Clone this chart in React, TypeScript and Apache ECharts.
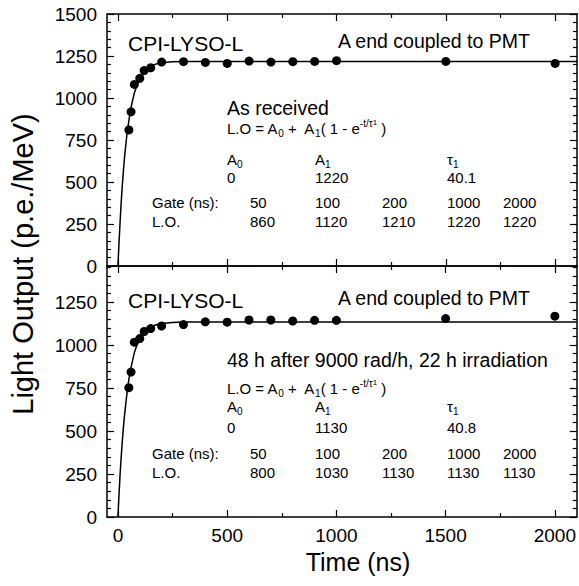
import React, { useEffect, useRef } from 'react';
import * as echarts from 'echarts';

// ---- data ----
const topPointT = [50, 60, 75, 100, 120, 150, 200, 300, 400, 500, 600, 700, 800, 900, 1000, 1500, 2000];
const topPointLO = [810, 918, 1081, 1117, 1163, 1180, 1214, 1216, 1212, 1206, 1220, 1214, 1216, 1218, 1222, 1218, 1206];
const bottomPointT = [50, 60, 75, 100, 120, 150, 200, 300, 400, 500, 600, 700, 800, 900, 1000, 1500, 2000];
const bottomPointLO = [752, 843, 1017, 1038, 1079, 1096, 1111, 1119, 1135, 1133, 1146, 1146, 1140, 1144, 1144, 1154, 1168];

const fitT = [0, 5, 10, 15, 20, 25, 30, 40, 50, 60, 75, 90, 100, 125, 150, 175, 200, 250, 300, 2100];
const topFitLO = [0, 140, 265, 380, 480, 565, 645, 770, 865, 945, 1030, 1085, 1110, 1160, 1188, 1203, 1210, 1216, 1218, 1218];
const bottomFitLO = [0, 130, 250, 350, 440, 520, 590, 705, 800, 870, 955, 1010, 1035, 1080, 1105, 1118, 1125, 1131, 1134, 1134];

const xMajorTicks = [0, 500, 1000, 1500, 2000];
const xMinorTicks = [250, 750, 1250, 1750];
const yTopMajorTicks = [0, 250, 500, 750, 1000, 1250, 1500];
const yBottomMajorTicks = [0, 250, 500, 750, 1000, 1250];

const gateNs = ['50', '100', '200', '1000', '2000'];
const topTableLO = ['860', '1120', '1210', '1220', '1220'];
const bottomTableLO = ['800', '1030', '1130', '1130', '1130'];
const topFitParams = ['0', '1220', '40.1'];
const bottomFitParams = ['0', '1130', '40.8'];

const panelLabel = 'CPI-LYSO-L';
const panelNote = 'A end coupled to PMT';
const topCondition = 'As received';
const bottomCondition = '48 h after 9000 rad/h, 22 h irradiation';
const yTitle = 'Light Output (p.e./MeV)';
const xTitle = 'Time (ns)';

// ---- layout ----
const FF = "'Liberation Sans', Arial, Helvetica, sans-serif";
const tableColX = [250, 315, 382, 447, 503];
const paramColX = [227, 315, 447];

const minorYTicks = (max: number, major: number[]) => {
  const out: number[] = [];
  for (let v = 50; v < max; v += 50) if (major.indexOf(v) < 0) out.push(v);
  return out;
};

const lineSt = { color: '#000', width: 1.5 };
const plain = (v: number) => String(v);

function xAxes(grid: number, showLabels: boolean) {
  const base: any = { type: 'value', gridIndex: grid, min: -50, max: 2100, splitLine: { show: false } };
  const mk = (pos: string, ticks: number[], len: number, labels: boolean, line: boolean) => ({
    ...base,
    position: pos,
    axisLine: { show: line, onZero: false, lineStyle: lineSt },
    axisTick: { show: true, inside: true, length: len, customValues: ticks, lineStyle: { color: '#000', width: 1.2 } },
    axisLabel: labels
      ? { show: true, customValues: xMajorTicks, formatter: plain, fontSize: 19, fontFamily: FF, color: '#000', margin: 9 }
      : { show: false },
  });
  return [
    mk('bottom', xMajorTicks, 7, showLabels, true),
    mk('bottom', xMinorTicks, 4, false, false),
    mk('top', xMajorTicks, 7, false, true),
    mk('top', xMinorTicks, 4, false, false),
  ];
}

function yAxes(grid: number, max: number, major: number[]) {
  const minor = minorYTicks(max, major);
  const base: any = { type: 'value', gridIndex: grid, min: 0, max, splitLine: { show: false } };
  const mk = (pos: string, ticks: number[], len: number, labels: boolean, line: boolean) => ({
    ...base,
    position: pos,
    axisLine: { show: line, onZero: false, lineStyle: lineSt },
    axisTick: { show: true, inside: true, length: len, customValues: ticks, lineStyle: { color: '#000', width: 1.2 } },
    axisLabel: labels
      ? { show: true, customValues: major, formatter: plain, fontSize: 19, fontFamily: FF, color: '#000', margin: 10 }
      : { show: false },
  });
  return [
    mk('left', major, 7, true, true),
    mk('left', minor, 4, false, false),
    mk('right', major, 7, false, true),
    mk('right', minor, 4, false, false),
  ];
}

const txt = (x: number, y: number, text: string, size: number, extra: any = {}) => ({
  type: 'text',
  x,
  y,
  silent: true,
  style: { text, fontSize: size, fontFamily: FF, fill: '#000', align: 'left', verticalAlign: 'middle', ...extra },
});

const rich = {
  n: { fontSize: 15, lineHeight: 20, fontFamily: FF, fill: '#000' },
  s: { fontSize: 10, lineHeight: 8, fontFamily: FF, fill: '#000', verticalAlign: 'bottom' },
  p: { fontSize: 10, lineHeight: 10, fontFamily: FF, fill: '#000', verticalAlign: 'top' },
  q: { fontSize: 8, lineHeight: 15, fontFamily: FF, fill: '#000', verticalAlign: 'top' },
};
const richHead = {
  n: { fontSize: 15, lineHeight: 21, fontFamily: FF, fill: '#000' },
  s: { fontSize: 10, lineHeight: 8, fontFamily: FF, fill: '#000', verticalAlign: 'bottom' },
};
const richTxt = (x: number, y: number, text: string, r: any) => ({
  type: 'text',
  x,
  y,
  silent: true,
  style: { text, rich: r, fontFamily: FF, fill: '#000', align: 'left', verticalAlign: 'middle' },
});

function panelTexts(
  yLabel: number, yNote: number, yCond: number, yFormula: number, yHead: number, yParam: number,
  yGate: number, yLO: number, cond: string, params: string[], lo: string[]
) {
  const els: any[] = [];
  els.push(txt(128, yLabel, panelLabel, 21));
  els.push(txt(338, yNote, panelNote, 19.5));
  els.push(txt(227, yCond, cond, 19.5));
  els.push(richTxt(227, yFormula, '{n|L.O = A}{s|0}{n| +  A}{s|1}{n|( 1 - e}{p|-t/τ}{q|1}{n| )}', rich));
  els.push(richTxt(paramColX[0], yHead, '{n|A}{s|0}', richHead));
  els.push(richTxt(paramColX[1], yHead, '{n|A}{s|1}', richHead));
  els.push(richTxt(paramColX[2], yHead, '{n|τ}{s|1}', richHead));
  params.forEach((p, i) => els.push(txt(paramColX[i], yParam, p, 15)));
  els.push(txt(152, yGate, 'Gate (ns):', 15));
  els.push(txt(152, yLO, 'L.O.', 15));
  gateNs.forEach((g, i) => els.push(txt(tableColX[i], yGate, g, 15)));
  lo.forEach((g, i) => els.push(txt(tableColX[i], yLO, g, 15)));
  return els;
}

export default function App() {
  const ref = useRef<HTMLDivElement>(null);
  useEffect(() => {
    if (!ref.current) return;
    const chart = echarts.init(ref.current, undefined, { renderer: 'svg' });
    const pair = (t: number[], v: number[]) => t.map((x, i) => [x, v[i]]);
    chart.setOption({
      animation: false,
      backgroundColor: '#fff',
      grid: [
        { left: 107, top: 14, width: 470, height: 252, containLabel: false },
        { left: 107, top: 266, width: 470, height: 251, containLabel: false },
      ],
      xAxis: [...xAxes(0, false), ...xAxes(1, true)],
      yAxis: [...yAxes(0, 1500, yTopMajorTicks), ...yAxes(1, 1460, yBottomMajorTicks)],
      series: [
        {
          type: 'line', xAxisIndex: 0, yAxisIndex: 0, data: pair(fitT, topFitLO),
          showSymbol: false, smooth: false, lineStyle: { color: '#000', width: 1.5 }, silent: true,
        },
        {
          type: 'scatter', xAxisIndex: 0, yAxisIndex: 0, data: pair(topPointT, topPointLO),
          symbol: 'circle', symbolSize: 9, itemStyle: { color: '#000', opacity: 1 }, silent: true,
        },
        {
          type: 'line', xAxisIndex: 4, yAxisIndex: 4, data: pair(fitT, bottomFitLO),
          showSymbol: false, smooth: false, lineStyle: { color: '#000', width: 1.5 }, silent: true,
        },
        {
          type: 'scatter', xAxisIndex: 4, yAxisIndex: 4, data: pair(bottomPointT, bottomPointLO),
          symbol: 'circle', symbolSize: 9, itemStyle: { color: '#000', opacity: 1 }, silent: true,
        },
      ],
      graphic: [
        ...panelTexts(43, 41, 108, 128, 159, 177, 202, 221, topCondition, topFitParams, topTableLO),
        ...panelTexts(300, 298, 360, 388, 406, 427, 453, 472, bottomCondition, bottomFitParams, bottomTableLO),
        {
          type: 'text', x: 23, y: 264, rotation: Math.PI / 2, silent: true,
          style: { text: yTitle, fontSize: 29, fontFamily: FF, fill: '#000', align: 'center', verticalAlign: 'middle' },
        },
        {
          type: 'text', x: 358, y: 562, silent: true,
          style: { text: xTitle, fontSize: 25, fontFamily: FF, fill: '#000', align: 'center', verticalAlign: 'middle' },
        },
      ],
    });
    return () => chart.dispose();
  }, []);
  return <div ref={ref} style={{ position: 'fixed', left: 0, top: 0, width: 579, height: 586 }} />;
}
